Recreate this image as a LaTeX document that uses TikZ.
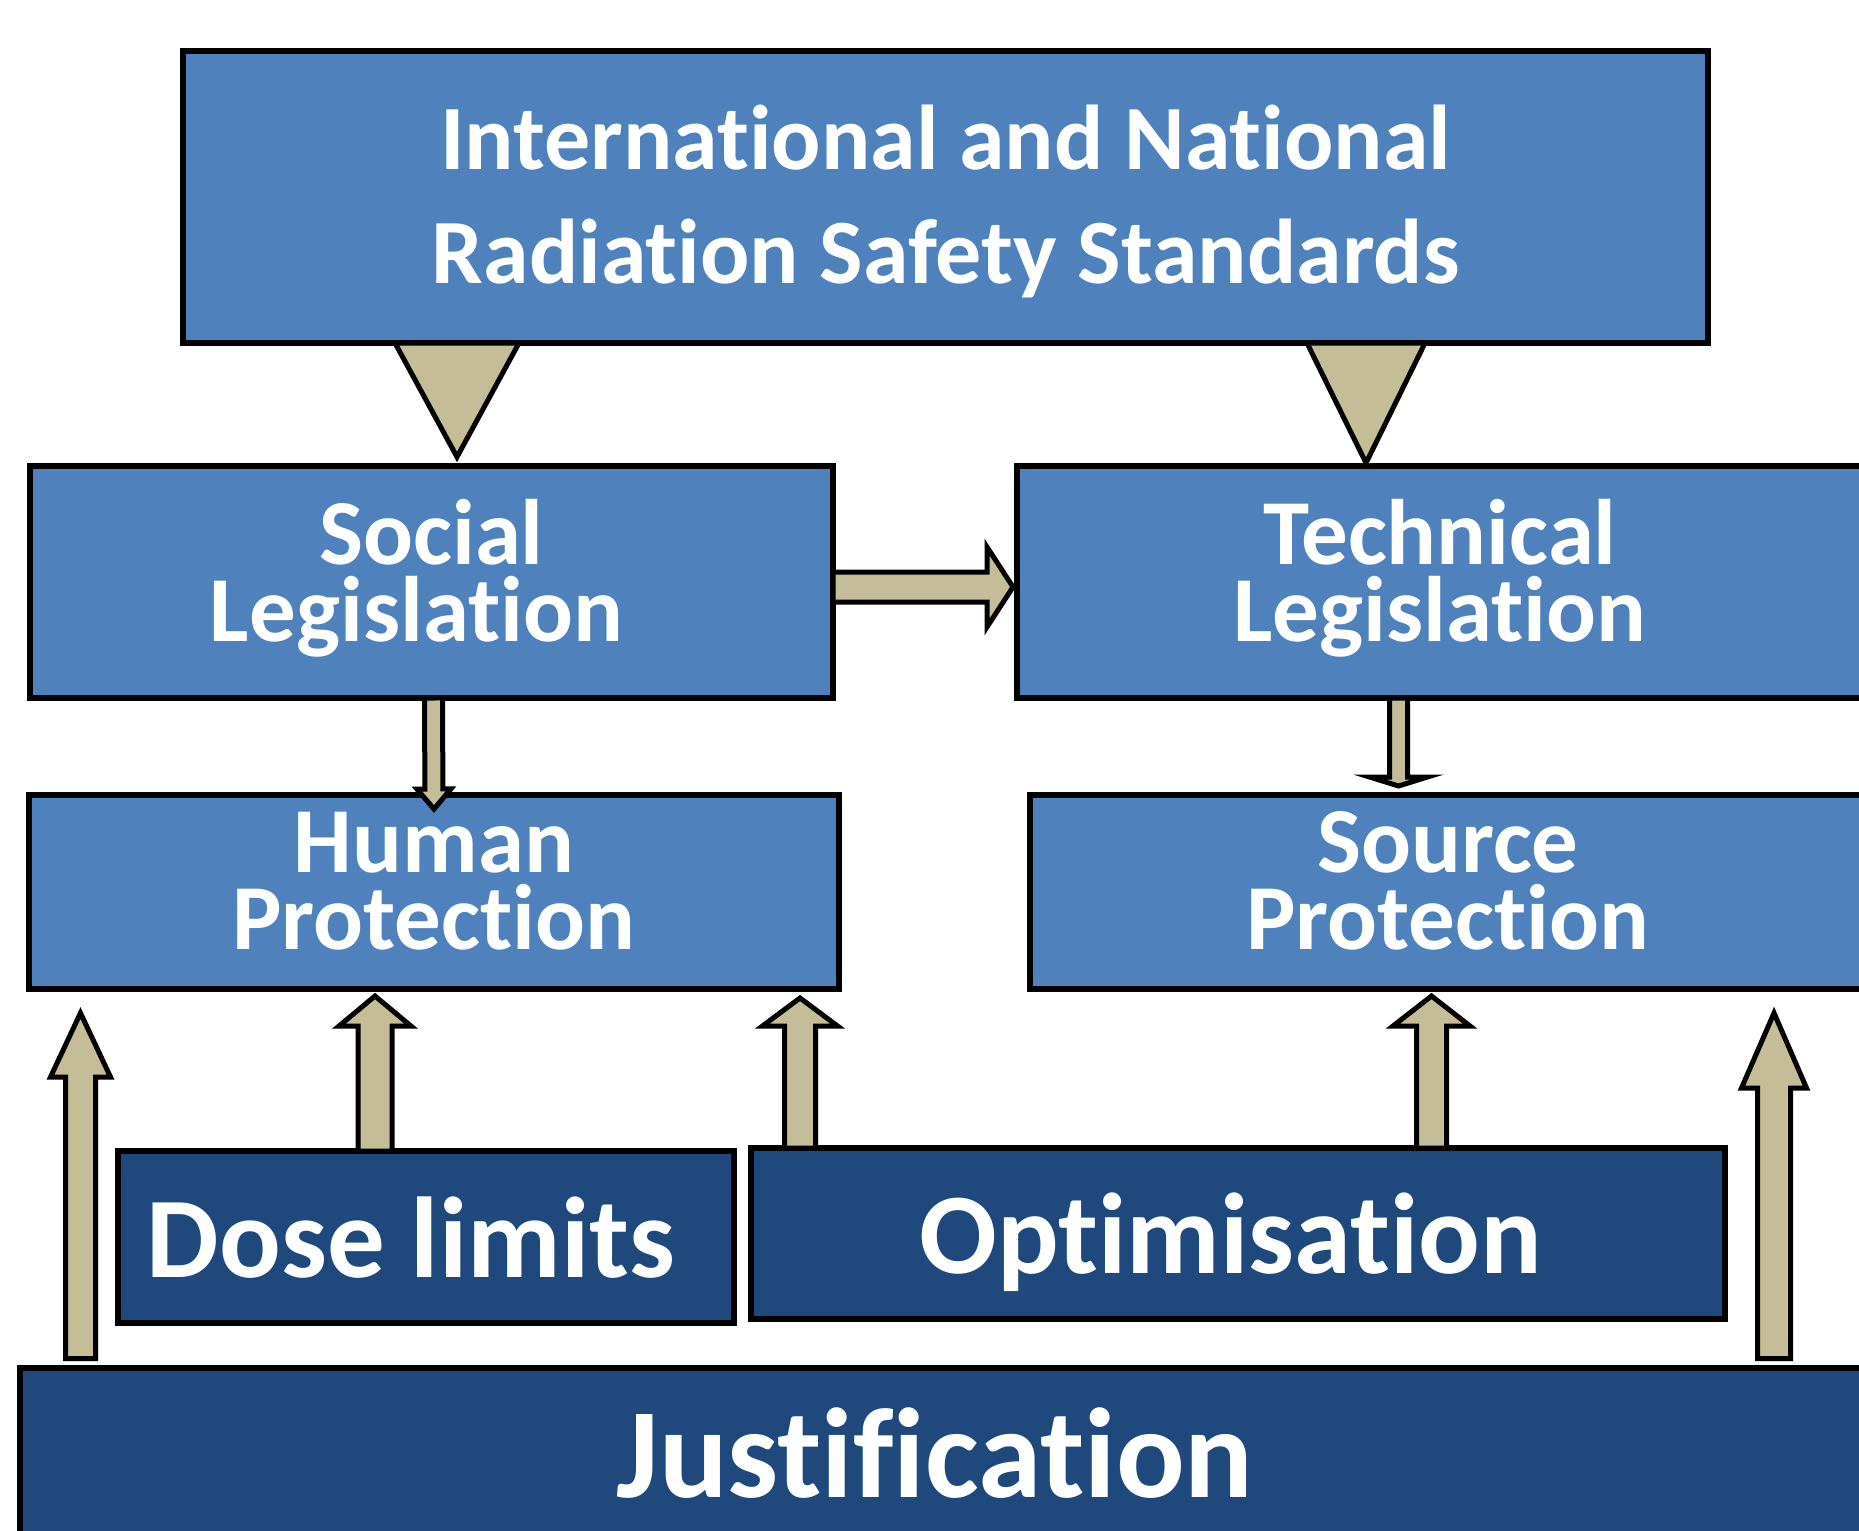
\documentclass[tikz,border=0pt]{standalone}
\usepackage{fontspec}
\setmainfont{Carlito}[Ligatures=NoCommon]
\usepackage{xcolor}
\usepackage{tikz}
\usetikzlibrary{calc,positioning}

\definecolor{boxblue}{HTML}{4F81BD}
\definecolor{boxnavy}{HTML}{1F497D}
\definecolor{arrowtan}{HTML}{C4BD97}

\begin{document}
\begin{tikzpicture}[
    x=1pt, y=-1pt,
    lightbox/.style={rectangle, draw=black, fill=boxblue, line width=6pt, text=white, align=center, inner sep=0pt, outer sep=0pt, text depth=23pt, font=\bfseries\fontsize{93}{77}\selectfont},
    darkbox/.style={lightbox, fill=boxnavy, text depth=0pt, font=\bfseries\fontsize{115}{120}\selectfont},
    funnel/.style={draw=black, fill=arrowtan, line width=5pt, to path={($(\tikztostart)+(-#1,0)$) -- (\tikztotarget) -- ($(\tikztostart)+(#1,0)$) -- cycle}},
    blockarrow/.style n args={3}{draw=black, fill=arrowtan, line width=5pt,
        to path={($(\tikztotarget)!#3!(\tikztostart)$) coordinate (headbase)
            ($(\tikztostart)!#1!90:(\tikztotarget)$)
            -- ($(headbase)!#1!-90:(\tikztostart)$)
            -- ($(headbase)!#2!-90:(\tikztostart)$)
            -- (\tikztotarget)
            -- ($(headbase)!#2!90:(\tikztostart)$)
            -- ($(headbase)!#1!90:(\tikztostart)$)
            -- ($(\tikztostart)!#1!-90:(\tikztotarget)$)
            -- cycle}}
]
\useasboundingbox (0,0) rectangle (1859,1530);
\clip (0,0) rectangle (1859,1530);

% Standards
\node[lightbox, minimum width=1525pt, minimum height=292pt, text depth=6pt, font=\bfseries\fontsize{92}{114}\selectfont] (standards) at (945.5,197) {International and National\\Radiation Safety Standards};

% Legislation
\node[lightbox, minimum width=803pt, minimum height=232pt] (social) at (431.5,582) {Social\\Legislation\hspace*{30pt}};
\node[lightbox, minimum width=846pt, minimum height=232pt] (technical) at (1440,582) {Technical\\Legislation};

% Protection
\node[lightbox, minimum width=810pt, minimum height=194pt] (human) at (434,892) {Human\\Protection};
\node[lightbox, minimum width=836pt, minimum height=194pt] (source) at (1448,892) {Source\\Protection};

% Principles
\node[darkbox, minimum width=616pt, minimum height=172pt] (dose) at (426,1237) {Dose limits\hspace*{30pt}};
\node[darkbox, minimum width=974pt, minimum height=171pt] (optim) at (1238,1233.5) {Optimisation\hspace*{15pt}};
\node[darkbox, minimum width=1880pt, minimum height=170pt, font=\bfseries\fontsize{128}{130}\selectfont] (justif) at (960,1453) {Justification\hspace*{50pt}};

% Connections
\draw[funnel=62] ([xshift=-488.5pt]standards.south) to ([xshift=25.5pt,yshift=9pt]social.north);
\draw[funnel=59] ([xshift=420.5pt]standards.south) to ([xshift=-74pt,yshift=3pt]technical.north);

\draw[blockarrow={15pt}{40pt}{26pt}] ([yshift=-5pt]social.east) to ([xshift=-4pt,yshift=-5pt]technical.west);
\draw[blockarrow={9pt}{17pt}{20pt}] ([xshift=2pt]social.south) to ([yshift=-14pt]human.north);
\draw[blockarrow={9pt}{29pt}{9pt}] ([xshift=-41.5pt]technical.south) to ([xshift=-49.5pt,yshift=9pt]source.north);

\draw[blockarrow={17pt}{36pt}{30pt}] ([xshift=-51pt]dose.north) to ([xshift=-59pt,yshift=-7pt]human.south);
\draw[blockarrow={15.5pt}{37.5pt}{28pt}] ([xshift=-438pt]optim.north) to ([xshift=366pt,yshift=-9pt]human.south);
\draw[blockarrow={15pt}{38.5pt}{30pt}] ([xshift=193.5pt]optim.north) to ([xshift=-16.5pt,yshift=-7pt]source.south);

\draw[blockarrow={15pt}{30pt}{64pt}] ([xshift=-879.5pt,yshift=9.5pt]justif.north) to ([xshift=-353.5pt,yshift=-24pt]human.south);
\draw[blockarrow={16.5pt}{32.5pt}{75pt}] ([xshift=814pt,yshift=9.5pt]justif.north) to ([xshift=326pt,yshift=-24pt]source.south);

\end{tikzpicture}
\end{document}
